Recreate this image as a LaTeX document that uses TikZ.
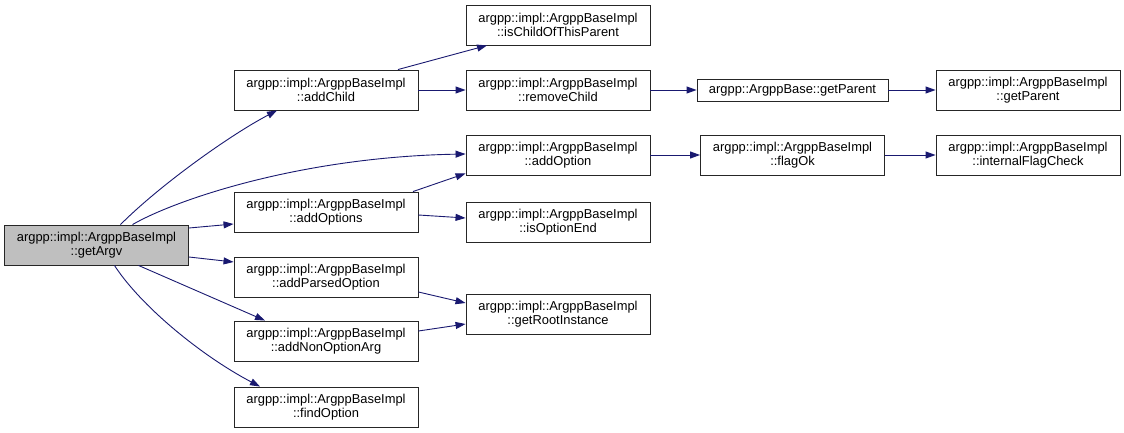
\documentclass[tikz,border=0pt]{standalone}
\usepackage{fontspec}
\setmainfont{Liberation Sans}
\usetikzlibrary{arrows.meta,calc}
\definecolor{edgeblue}{RGB}{25,25,112}
\definecolor{curgrey}{RGB}{191,191,191}
\tikzset{
  fn/.style={draw=black!85, line width=0.9pt, fill=white, rectangle, inner sep=0pt,
    minimum width=184pt, minimum height=40pt, align=center,
    font=\fontsize{12.9}{14}\selectfont},
  cur/.style={fn, fill=curgrey},
  call/.style={draw=edgeblue, line width=0.9pt, -{Triangle[length=10pt,width=7pt]}, edgeblue}
}
\begin{document}
\begin{tikzpicture}[x=1pt,y=-1pt]
\useasboundingbox (0,0) rectangle (1124,433);
\node[cur] (getArgv) at (96.5,245) {argpp::impl::ArgppBaseImpl\\::getArgv};
\node[fn] (addChild) at (326,90) {argpp::impl::ArgppBaseImpl\\::addChild};
\node[fn] (addOptions) at (326,212) {argpp::impl::ArgppBaseImpl\\::addOptions};
\node[fn] (addParsedOption) at (326,277) {argpp::impl::ArgppBaseImpl\\::addParsedOption};
\node[fn] (addNonOptionArg) at (326,341) {argpp::impl::ArgppBaseImpl\\::addNonOptionArg};
\node[fn] (findOption) at (326,407) {argpp::impl::ArgppBaseImpl\\::findOption};
\node[fn] (isChild) at (558,25) {argpp::impl::ArgppBaseImpl\\::isChildOfThisParent};
\node[fn] (removeChild) at (558,90) {argpp::impl::ArgppBaseImpl\\::removeChild};
\node[fn] (addOption) at (558,155) {argpp::impl::ArgppBaseImpl\\::addOption};
\node[fn] (isOptionEnd) at (558,222) {argpp::impl::ArgppBaseImpl\\::isOptionEnd};
\node[fn] (getRootInstance) at (558,314) {argpp::impl::ArgppBaseImpl\\::getRootInstance};
\node[fn, minimum width=191pt, minimum height=22pt] (baseGetParent) at (792.5,90) {argpp::ArgppBase::getParent};
\node[fn] (flagOk) at (792.5,155) {argpp::impl::ArgppBaseImpl\\::flagOk};
\node[fn] (implGetParent) at (1028,90) {argpp::impl::ArgppBaseImpl\\::getParent};
\node[fn] (internalFlagCheck) at (1028,155) {argpp::impl::ArgppBaseImpl\\::internalFlagCheck};

\draw[call] ($(getArgv.north)+(24,0)$) .. controls (160,185) and (230,135) .. ($(addChild.south)+(-49,0)$);
\draw[call] ($(getArgv.north)+(36,0)$) .. controls (175,200) and (300,157) .. ($(addOption.west)+(0,-1)$);
\draw[call] ($(getArgv.east)+(0,-17)$) -- ($(addOptions.west)+(0,12)$);
\draw[call] ($(getArgv.east)+(0,12)$) -- ($(addParsedOption.west)+(0,-15)$);
\draw[call] ($(getArgv.south)+(42,0)$) -- ($(addNonOptionArg.north)+(-61,0)$);
\draw[call] ($(getArgv.south)+(18,0)$) .. controls (140,305) and (200,355) .. ($(findOption.north)+(-66,0)$);
\draw[call] ($(addChild.north)+(72,0)$) -- ($(isChild.south)+(-71,0)$);
\draw[call] (addChild.east) -- (removeChild.west);
\draw[call] (removeChild.east) -- (baseGetParent.west);
\draw[call] (baseGetParent.east) -- (implGetParent.west);
\draw[call] (addOption.east) -- (flagOk.west);
\draw[call] (flagOk.east) -- (internalFlagCheck.west);
\draw[call] ($(addOptions.north)+(87,0)$) -- ($(addOption.south west)+(0,-2)$);
\draw[call] ($(addOptions.east)+(0,3)$) -- ($(isOptionEnd.west)+(0,-4)$);
\draw[call] ($(addParsedOption.east)+(0,15)$) -- ($(getRootInstance.west)+(0,-11)$);
\draw[call] ($(addNonOptionArg.east)+(0,-10)$) -- ($(getRootInstance.west)+(0,10)$);
\end{tikzpicture}
\end{document}
